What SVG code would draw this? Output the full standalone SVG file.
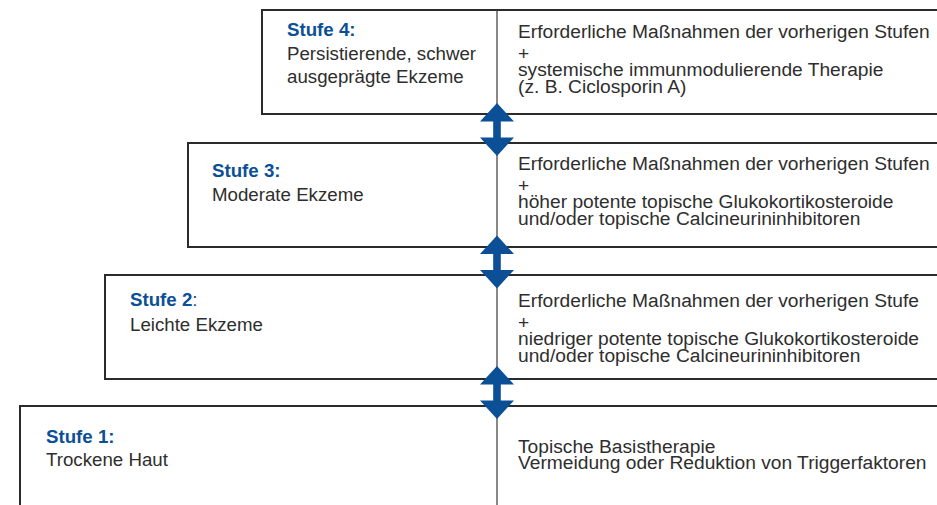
<svg xmlns="http://www.w3.org/2000/svg" width="937" height="505" viewBox="0 0 937 505">
<style>
.box{fill:#fff;stroke:#2b2b2b;stroke-width:2}
.div{stroke:#3a3a3a;stroke-width:1.2}
.t{font-family:"Liberation Sans",Arial,sans-serif;font-size:18.7px;fill:#2e2e2e}
.r{font-family:"Liberation Sans",Arial,sans-serif;font-size:19.2px;fill:#2e2e2e}
.h{font-family:"Liberation Sans",Arial,sans-serif;font-size:18.7px;font-weight:bold;fill:#0b4f96}
.hc{font-weight:normal}
.arr{fill:#0b4f96}
</style>
<defs>
<path id="dbl" d="M0,-26.5 L17,-8 L3.8,-8 L3.8,8 L17,8 L0,26.5 L-17,8 L-3.8,8 L-3.8,-8 L-17,-8 Z"/>
</defs>
<g id="stufe1">
<rect class="box" x="20" y="406" width="940" height="120"/>
<line class="div" x1="497" y1="406" x2="497" y2="505"/>
<text class="h" x="46" y="443">Stufe 1:</text>
<text class="t" x="46" y="466">Trockene Haut</text>
<text class="r" x="518" y="453">Topische Basistherapie</text>
<text class="r" x="518" y="469">Vermeidung oder Reduktion von Triggerfaktoren</text>
</g>
<g id="stufe2">
<rect class="box" x="105" y="275" width="860" height="104"/>
<line class="div" x1="497" y1="275" x2="497" y2="379"/>
<text class="h" x="130" y="306">Stufe 2<tspan class="hc">:</tspan></text>
<text class="t" x="130" y="331">Leichte Ekzeme</text>
<text class="r" x="518" y="307">Erforderliche Maßnahmen der vorherigen Stufe</text>
<text class="r" x="518" y="329">+</text>
<text class="r" x="518" y="345">niedriger potente topische Glukokortikosteroide</text>
<text class="r" x="518" y="362">und/oder topische Calcineurininhibitoren</text>
</g>
<g id="stufe3">
<rect class="box" x="188" y="143" width="780" height="104"/>
<line class="div" x1="497" y1="143" x2="497" y2="247"/>
<text class="h" x="212" y="177">Stufe 3:</text>
<text class="t" x="212" y="201">Moderate Ekzeme</text>
<text class="r" x="518" y="170">Erforderliche Maßnahmen der vorherigen Stufen</text>
<text class="r" x="518" y="192">+</text>
<text class="r" x="518" y="208">höher potente topische Glukokortikosteroide</text>
<text class="r" x="518" y="225">und/oder topische Calcineurininhibitoren</text>
</g>
<g id="stufe4">
<rect class="box" x="262" y="10" width="700" height="104"/>
<line class="div" x1="497" y1="10" x2="497" y2="114"/>
<text class="h" x="287" y="36">Stufe 4:</text>
<text class="t" x="287" y="60">Persistierende, schwer</text>
<text class="t" x="287" y="83">ausgeprägte Ekzeme</text>
<text class="r" x="518" y="38">Erforderliche Maßnahmen der vorherigen Stufen</text>
<text class="r" x="518" y="60">+</text>
<text class="r" x="518" y="76">systemische immunmodulierende Therapie</text>
<text class="r" x="518" y="93">(z. B. Ciclosporin A)</text>
</g>
<g id="connectors">
<use href="#dbl" class="arr" x="497" y="129.5"/>
<use href="#dbl" class="arr" x="497" y="262"/>
<use href="#dbl" class="arr" x="497" y="392.5"/>
</g>
</svg>
